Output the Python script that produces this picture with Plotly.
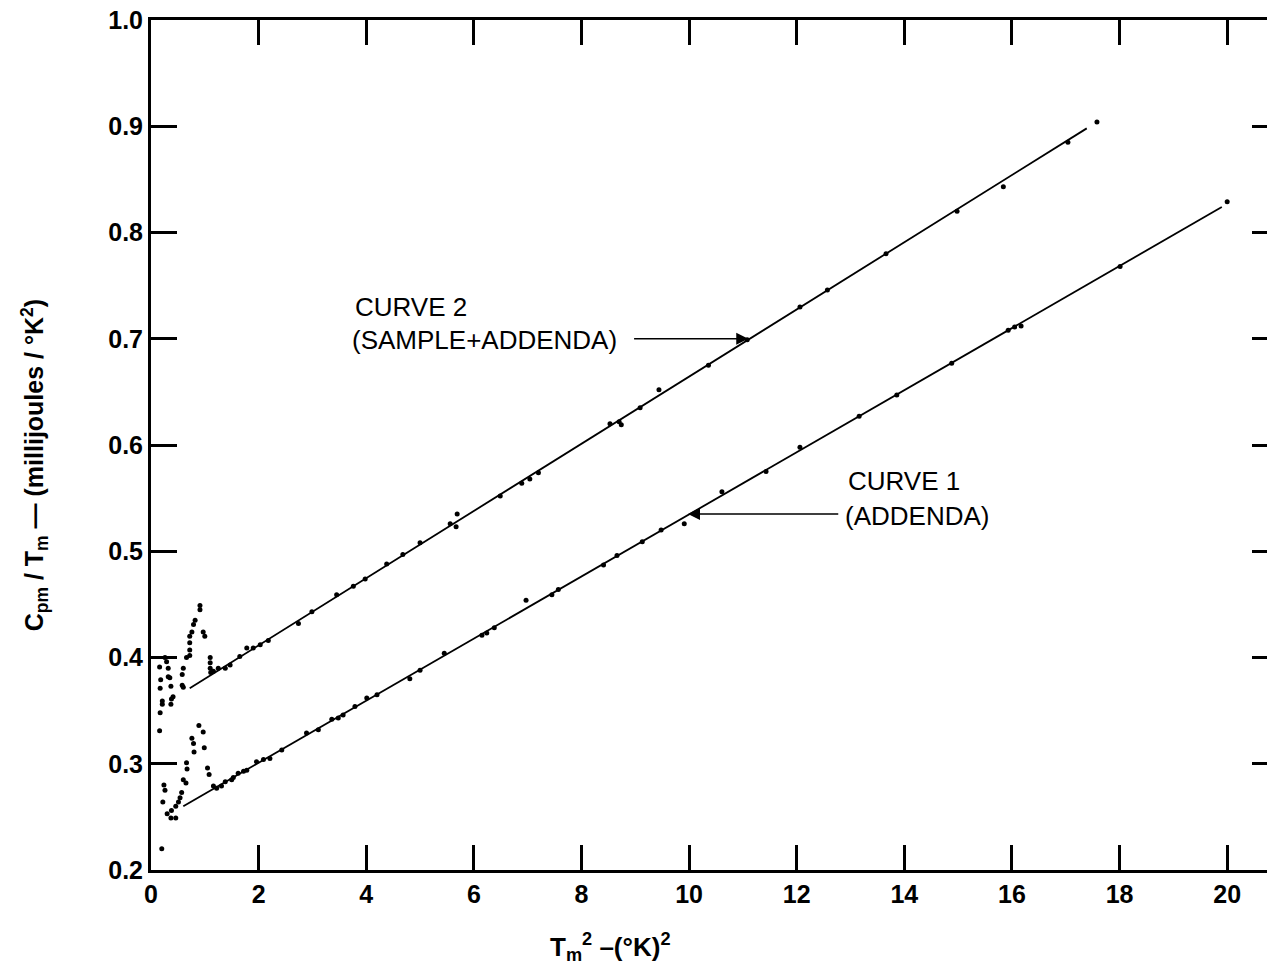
import plotly.graph_objects as go

# ---- data ----
# Curve 2 (sample + addenda): low-temperature scatter and main points
c2_low_x = [0.16, 0.17, 0.21, 0.21, 0.17, 0.18, 0.16, 0.26, 0.29, 0.32, 0.32, 0.35, 0.37, 0.37, 0.38, 0.41,
            0.58, 0.60, 0.58, 0.60, 0.66, 0.72, 0.72, 0.72, 0.72, 0.76, 0.79, 0.82, 0.91, 0.91, 0.97, 1.00,
            1.10, 1.10, 1.10, 1.11]
c2_low_y = [0.331, 0.348, 0.356, 0.359, 0.371, 0.379, 0.391, 0.400, 0.396, 0.390, 0.382, 0.381, 0.373, 0.356, 0.361, 0.363,
            0.374, 0.372, 0.384, 0.390, 0.400, 0.402, 0.407, 0.414, 0.420, 0.424, 0.431, 0.435, 0.445, 0.449, 0.424, 0.420,
            0.400, 0.395, 0.390, 0.386]
c2_x = [1.16, 1.25, 1.38, 1.47, 1.65, 1.78, 1.90, 2.03, 2.18, 2.74, 2.99, 3.45, 3.76, 3.98, 4.38, 4.68, 5.00,
        5.56, 5.67, 5.69, 6.49, 6.89, 7.04, 7.20, 8.53, 8.70, 8.74, 9.09, 9.44, 10.36, 11.08, 12.06, 12.57,
        13.66, 14.98, 15.84, 17.04, 17.58]
c2_y = [0.387, 0.390, 0.390, 0.393, 0.401, 0.409, 0.409, 0.412, 0.416, 0.432, 0.443, 0.459, 0.467, 0.474, 0.488, 0.497, 0.508,
        0.526, 0.523, 0.535, 0.552, 0.564, 0.568, 0.574, 0.620, 0.622, 0.619, 0.635, 0.652, 0.675, 0.699, 0.730, 0.746,
        0.780, 0.820, 0.843, 0.885, 0.904]
fit2_x = [0.72, 17.39]
fit2_y = [0.371, 0.898]

# Curve 1 (addenda)
c1_low_x = [0.20, 0.22, 0.24, 0.26, 0.30, 0.37, 0.38, 0.46, 0.46, 0.51, 0.54, 0.57, 0.60, 0.65, 0.66, 0.67,
            0.76, 0.79, 0.80, 0.89, 0.97, 0.99, 1.05, 1.08]
c1_low_y = [0.220, 0.264, 0.280, 0.275, 0.253, 0.249, 0.256, 0.249, 0.260, 0.264, 0.268, 0.273, 0.285, 0.282, 0.301, 0.295,
            0.324, 0.319, 0.311, 0.336, 0.330, 0.315, 0.296, 0.290]
c1_x = [1.16, 1.22, 1.31, 1.38, 1.50, 1.53, 1.62, 1.72, 1.78, 1.96, 2.09, 2.21, 2.43, 2.89, 3.11, 3.36, 3.48, 3.57,
        3.79, 4.01, 4.20, 4.81, 5.00, 5.45, 6.15, 6.24, 6.38, 6.97, 7.45, 7.57, 8.41, 8.66, 9.13, 9.48, 9.91,
        10.61, 11.43, 12.06, 13.16, 13.86, 14.88, 15.93, 16.05, 16.17, 18.01, 20.00]
c1_y = [0.279, 0.277, 0.279, 0.283, 0.285, 0.287, 0.291, 0.293, 0.294, 0.302, 0.304, 0.305, 0.313, 0.329, 0.332, 0.342, 0.343, 0.346,
        0.354, 0.362, 0.365, 0.380, 0.388, 0.404, 0.421, 0.423, 0.428, 0.454, 0.459, 0.464, 0.487, 0.496, 0.509, 0.520, 0.526,
        0.556, 0.575, 0.598, 0.627, 0.647, 0.677, 0.708, 0.711, 0.712, 0.768, 0.829]
fit1_x = [0.60, 19.90]
fit1_y = [0.260, 0.824]

x_ticks = [0, 2, 4, 6, 8, 10, 12, 14, 16, 18, 20]
y_ticks = [0.2, 0.3, 0.4, 0.5, 0.6, 0.7, 0.8, 0.9, 1.0]
y_tick_text = ["0.2", "0.3", "0.4", "0.5", "0.6", "0.7", "0.8", "0.9", "1.0"]

X_RANGE = [0, 20.74]
Y_RANGE = [0.2, 1.0]
FONT = "Liberation Sans"

fig = go.Figure()
line_style = dict(color="black", width=1.8)
mk = dict(color="black", size=5)

fig.add_trace(go.Scatter(x=fit2_x, y=fit2_y, mode="lines", line=line_style, hoverinfo="skip"))
fig.add_trace(go.Scatter(x=fit1_x, y=fit1_y, mode="lines", line=line_style, hoverinfo="skip"))
fig.add_trace(go.Scatter(x=c2_low_x + c2_x, y=c2_low_y + c2_y, mode="markers", marker=mk))
fig.add_trace(go.Scatter(x=c1_low_x + c1_x, y=c1_low_y + c1_y, mode="markers", marker=mk))
# carrier trace for right-hand tick axis
fig.add_trace(go.Scatter(x=[None], y=[None], yaxis="y2", mode="markers", hoverinfo="skip"))

txt = dict(family=FONT, size=26, color="black")
fig.add_annotation(x=3.75, y=0.730, xref="x", yref="y", text="CURVE 2", showarrow=False,
                   xanchor="left", yanchor="middle", font=txt)
fig.add_annotation(x=3.70, y=0.699, xref="x", yref="y", text="(SAMPLE+ADDENDA)", showarrow=False,
                   xanchor="left", yanchor="middle", font=txt)
fig.add_annotation(x=11.1, y=0.700, ax=8.95, ay=0.700, xref="x", yref="y", axref="x", ayref="y",
                   text="", showarrow=True, arrowhead=2, arrowsize=1.6, arrowwidth=1.5, arrowcolor="black")
fig.add_annotation(x=12.92, y=0.566, xref="x", yref="y", text="CURVE 1", showarrow=False,
                   xanchor="left", yanchor="middle", font=txt)
fig.add_annotation(x=12.86, y=0.533, xref="x", yref="y", text="(ADDENDA)", showarrow=False,
                   xanchor="left", yanchor="middle", font=txt)
fig.add_annotation(x=9.98, y=0.535, ax=12.80, ay=0.535, xref="x", yref="y", axref="x", ayref="y",
                   text="", showarrow=True, arrowhead=2, arrowsize=1.6, arrowwidth=1.5, arrowcolor="black")

# axis titles
fig.add_annotation(x=-0.104, y=0.476, xref="paper", yref="paper", textangle=-90,
                   xanchor="center", yanchor="middle",
                   text="<b>C<sub>pm</sub> / T<sub>m</sub> \u2014 (millijoules / \u00b0K<sup>2</sup>)</b>",
                   showarrow=False, font=dict(family=FONT, size=25, color="black"))
fig.add_annotation(x=(610 - 151) / 1116, y=-0.09, xref="paper", yref="paper",
                   xanchor="center", yanchor="middle",
                   text="<b>T<sub>m</sub><sup>2</sup> \u2013(\u00b0K)<sup>2</sup></b>",
                   showarrow=False, font=dict(family=FONT, size=26, color="black"))

tickfont = dict(family=FONT, size=25, color="black", weight="bold")
fig.update_layout(
    width=1267, height=968,
    margin=dict(l=151, r=0, t=20, b=98, autoexpand=False),
    paper_bgcolor="white", plot_bgcolor="white",
    showlegend=False,
    font=dict(family=FONT, size=24, color="black"),
    xaxis=dict(range=X_RANGE, tickvals=x_ticks, ticks="inside", ticklen=25, tickwidth=2.5,
               tickcolor="black", showline=True, linewidth=3, linecolor="black", mirror="ticks",
               showgrid=False, zeroline=False, tickfont=tickfont, automargin=False),
    yaxis=dict(range=Y_RANGE, tickvals=y_ticks, ticktext=y_tick_text, ticks="inside", ticklen=26,
               tickwidth=2.5, tickcolor="black", showline=True, linewidth=3, linecolor="black",
               showgrid=False, zeroline=False, tickfont=tickfont, automargin=False),
    yaxis2=dict(range=Y_RANGE, overlaying="y", side="right", tickvals=y_ticks, ticks="inside",
                ticklen=15, tickwidth=2.5, tickcolor="black", showline=False, showticklabels=False,
                showgrid=False, zeroline=False, automargin=False),
)

fig.write_html("out.html", config={"displayModeBar": False},
               post_script="document.body.style.margin='0';")
